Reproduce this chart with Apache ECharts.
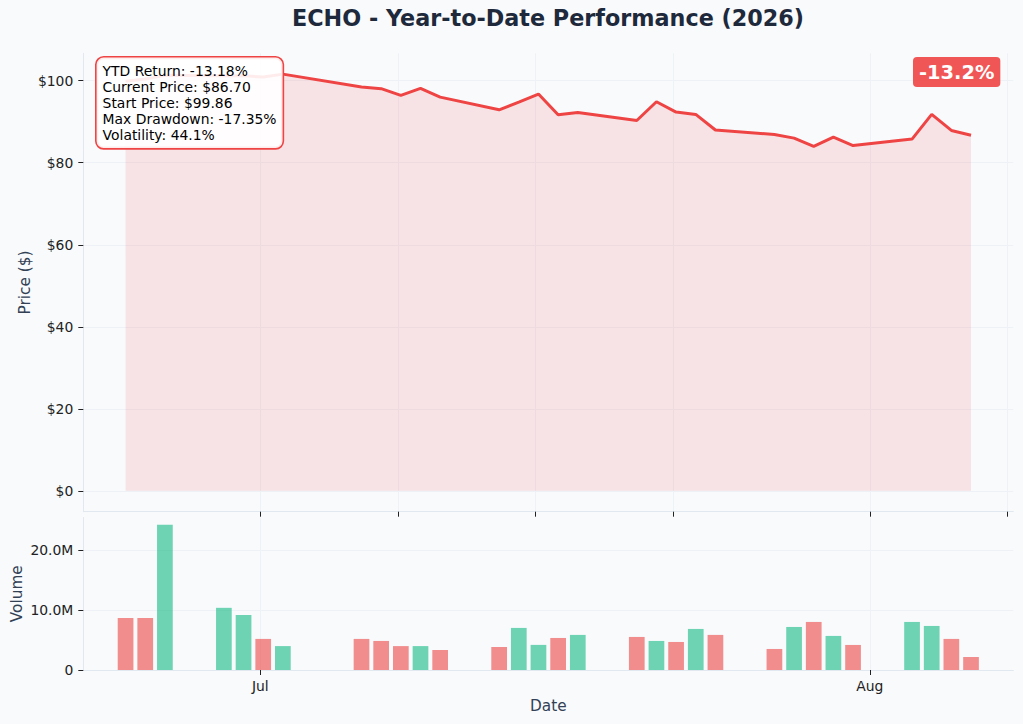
<!DOCTYPE html>
<html>
<head>
<meta charset="utf-8">
<title>ECHO - Year-to-Date Performance (2026)</title>
<script src="https://cdn.jsdelivr.net/npm/echarts@6/dist/echarts.min.js"></script>
<style>
  html, body { margin: 0; padding: 0; background: #f8fafc; }
  #main { width: 1023px; height: 724px; }
</style>
</head>
<body>
<div id="main"></div>
<script>
// trading days (Jul 3 is the holiday)
var dates = [
  '2026-06-24', '2026-06-25', '2026-06-26', '2026-06-29', '2026-06-30',
  '2026-07-01', '2026-07-02', '2026-07-06', '2026-07-07', '2026-07-08',
  '2026-07-09', '2026-07-10', '2026-07-13', '2026-07-14', '2026-07-15',
  '2026-07-16', '2026-07-17', '2026-07-20', '2026-07-21', '2026-07-22',
  '2026-07-23', '2026-07-24', '2026-07-27', '2026-07-28', '2026-07-29',
  '2026-07-30', '2026-07-31', '2026-08-03', '2026-08-04', '2026-08-05',
  '2026-08-06'
];
var closePrices = [
  99.86, 100.4, 101.3, 101.2, 101.2, 100.9, 101.6, 98.46, 98.05, 96.42,
  98.12, 96.0, 92.9, 94.8, 96.75, 91.7, 92.27, 90.3, 94.87, 92.35,
  91.78, 87.97, 86.9, 86.0, 83.97, 86.25, 84.2, 85.77, 91.78, 87.87,
  86.70
];
// millions of shares
var volumes = [
  8.7, 8.7, 24.3, 10.4, 9.2, 5.2, 4.0, 5.2, 4.86, 4.0,
  4.0, 3.35, 3.85, 7.04, 4.2, 5.36, 5.87, 5.53, 4.86, 4.69,
  6.87, 5.87, 3.52, 7.2, 8.04, 5.7, 4.19, 8.04, 7.37, 5.2,
  2.18
];
// 1 = closed above open, 0 = closed below
var upDay = [
  0, 0, 1, 1, 1, 0, 1, 0, 0, 0,
  1, 0, 0, 1, 1, 0, 1, 0, 1, 0,
  1, 0, 0, 1, 0, 1, 0, 1, 1, 0,
  0
];
var priceTicks = [0, 20, 40, 60, 80, 100];
var volumeTicks = [0, 10e6, 20e6];
var weekTicks = ['2026-07-01', '2026-07-08', '2026-07-15', '2026-07-22', '2026-08-01', '2026-08-08'];
var monthTicks = ['2026-07-01', '2026-08-01'];
var stats = {
  ytdReturn: '-13.18%',
  current: '$86.70',
  start: '$99.86',
  maxDrawdown: '-17.35%',
  volatility: '44.1%'
};

var RED = '#ef4444';
var FONT = 'DejaVu Sans';
var MONTHS = ['Jan', 'Feb', 'Mar', 'Apr', 'May', 'Jun', 'Jul', 'Aug', 'Sep', 'Oct', 'Nov', 'Dec'];

function toTime(s, h, m) {
  var p = s.split('-');
  return new Date(+p[0], +p[1] - 1, +p[2], h || 0, m || 0).getTime();
}

// samples were stamped a few hours into the day
var times = dates.map(function (d) { return toTime(d, 3, 36); });
var span = times[times.length - 1] - times[0];
var xMin = times[0] - span * 0.05;
var xMax = times[times.length - 1] + span * 0.05;

var pMax = Math.max.apply(null, closePrices);
var yMin = -pMax * 0.05;
var yMax = pMax * 1.05;
var vMax = Math.max.apply(null, volumes) * 1e6 * 1.05;

var weekTickTimes = weekTicks.map(function (d) { return toTime(d); });
var monthTickTimes = monthTicks.map(function (d) { return toTime(d); });

var priceData = times.map(function (t, i) { return [t, closePrices[i]]; });
var volumeData = times.map(function (t, i) {
  return {
    value: [t, volumes[i] * 1e6],
    itemStyle: { color: upDay[i] ? 'rgba(16,185,129,0.6)' : 'rgba(239,68,68,0.6)' }
  };
});

var chartDom = document.getElementById('main');
var myChart = echarts.init(chartDom, null, { renderer: 'svg' });

var tickStyle = { show: true, length: 5, lineStyle: { color: '#222', width: 1 } };
var spine = { show: true, onZero: false, lineStyle: { color: '#e2e8f0', width: 1 } };
var gridLine = { show: true, lineStyle: { color: '#eef1f5', width: 1 } };
var tickLabel = { color: '#222', fontFamily: FONT, fontSize: 13.9 };
var nameStyle = { color: '#334155', fontFamily: FONT, fontSize: 15.3 };

var option = {
  backgroundColor: '#f8fafc',
  animation: false,
  title: {
    text: 'ECHO - Year-to-Date Performance (2026)',
    left: 548,
    top: 7,
    textAlign: 'center',
    padding: 0,
    textStyle: { fontFamily: FONT, fontSize: 22.3, fontWeight: 'bold', color: '#1e293b' }
  },
  grid: [
    { left: 83.3, top: 53.3, width: 930, height: 458.4, outerBoundsMode: 'none', containLabel: false },
    { left: 83.3, top: 517.5, width: 930, height: 152.5, outerBoundsMode: 'none', containLabel: false }
  ],
  xAxis: [
    {
      type: 'value', gridIndex: 0, min: xMin, max: xMax,
      axisLine: spine,
      axisTick: Object.assign({ customValues: weekTickTimes }, tickStyle),
      axisLabel: { show: false, customValues: weekTickTimes },
      splitLine: gridLine
    },
    {
      type: 'value', gridIndex: 1, min: xMin, max: xMax,
      name: 'Date', nameLocation: 'middle', nameGap: 28, nameMoveOverlap: false,
      nameTextStyle: nameStyle,
      axisLine: spine,
      axisTick: Object.assign({ customValues: monthTickTimes }, tickStyle),
      axisLabel: Object.assign({
        customValues: monthTickTimes,
        margin: 9,
        formatter: function (v) { return MONTHS[new Date(v).getMonth()]; }
      }, tickLabel),
      splitLine: gridLine
    }
  ],
  yAxis: [
    {
      type: 'value', gridIndex: 0, min: yMin, max: yMax,
      name: 'Price ($)', nameLocation: 'middle', nameGap: 51, nameMoveOverlap: false,
      nameTextStyle: nameStyle,
      axisLine: spine,
      axisTick: Object.assign({ customValues: priceTicks }, tickStyle),
      axisLabel: Object.assign({
        customValues: priceTicks, margin: 10,
        formatter: function (v) { return '$' + v; }
      }, tickLabel),
      splitLine: gridLine
    },
    {
      type: 'value', gridIndex: 1, min: 0, max: vMax,
      name: 'Volume', nameLocation: 'middle', nameGap: 59, nameMoveOverlap: false,
      nameTextStyle: nameStyle,
      axisLine: spine,
      axisTick: Object.assign({ customValues: volumeTicks }, tickStyle),
      axisLabel: Object.assign({
        customValues: volumeTicks, margin: 10,
        formatter: function (v) { return v === 0 ? '0' : (v / 1e6).toFixed(1) + 'M'; }
      }, tickLabel),
      splitLine: gridLine
    }
  ],
  series: [
    {
      name: 'Price',
      type: 'line',
      xAxisIndex: 0,
      yAxisIndex: 0,
      data: priceData,
      symbol: 'none',
      lineStyle: { color: RED, width: 3 },
      areaStyle: { color: 'rgba(239,68,68,0.18)' },
      z: 3
    },
    {
      name: 'Volume',
      type: 'bar',
      xAxisIndex: 1,
      yAxisIndex: 1,
      data: volumeData,
      barWidth: 15.7
    }
  ],
  graphic: [
    {
      type: 'text',
      left: 95,
      top: 56,
      z: 100,
      style: {
        text: [
          'YTD Return: ' + stats.ytdReturn,
          'Current Price: ' + stats.current,
          'Start Price: ' + stats.start,
          'Max Drawdown: ' + stats.maxDrawdown,
          'Volatility: ' + stats.volatility
        ].join('\n'),
        fill: '#000',
        fontFamily: FONT,
        fontSize: 13.9,
        lineHeight: 16.1,
        backgroundColor: 'rgba(255,255,255,0.9)',
        borderColor: RED,
        borderWidth: 1.6,
        borderRadius: 7,
        padding: [5, 6, 5, 6]
      }
    },
    {
      type: 'text',
      left: 913,
      top: 57,
      z: 100,
      style: {
        text: '-13.2%',
        fill: '#fff',
        fontFamily: FONT,
        fontSize: 19.4,
        fontWeight: 'bold',
        lineHeight: 21,
        backgroundColor: 'rgba(239,68,68,0.9)',
        borderRadius: 4,
        padding: [5, 6, 4, 6]
      }
    }
  ]
};

option && myChart.setOption(option);
</script>
</body>
</html>
